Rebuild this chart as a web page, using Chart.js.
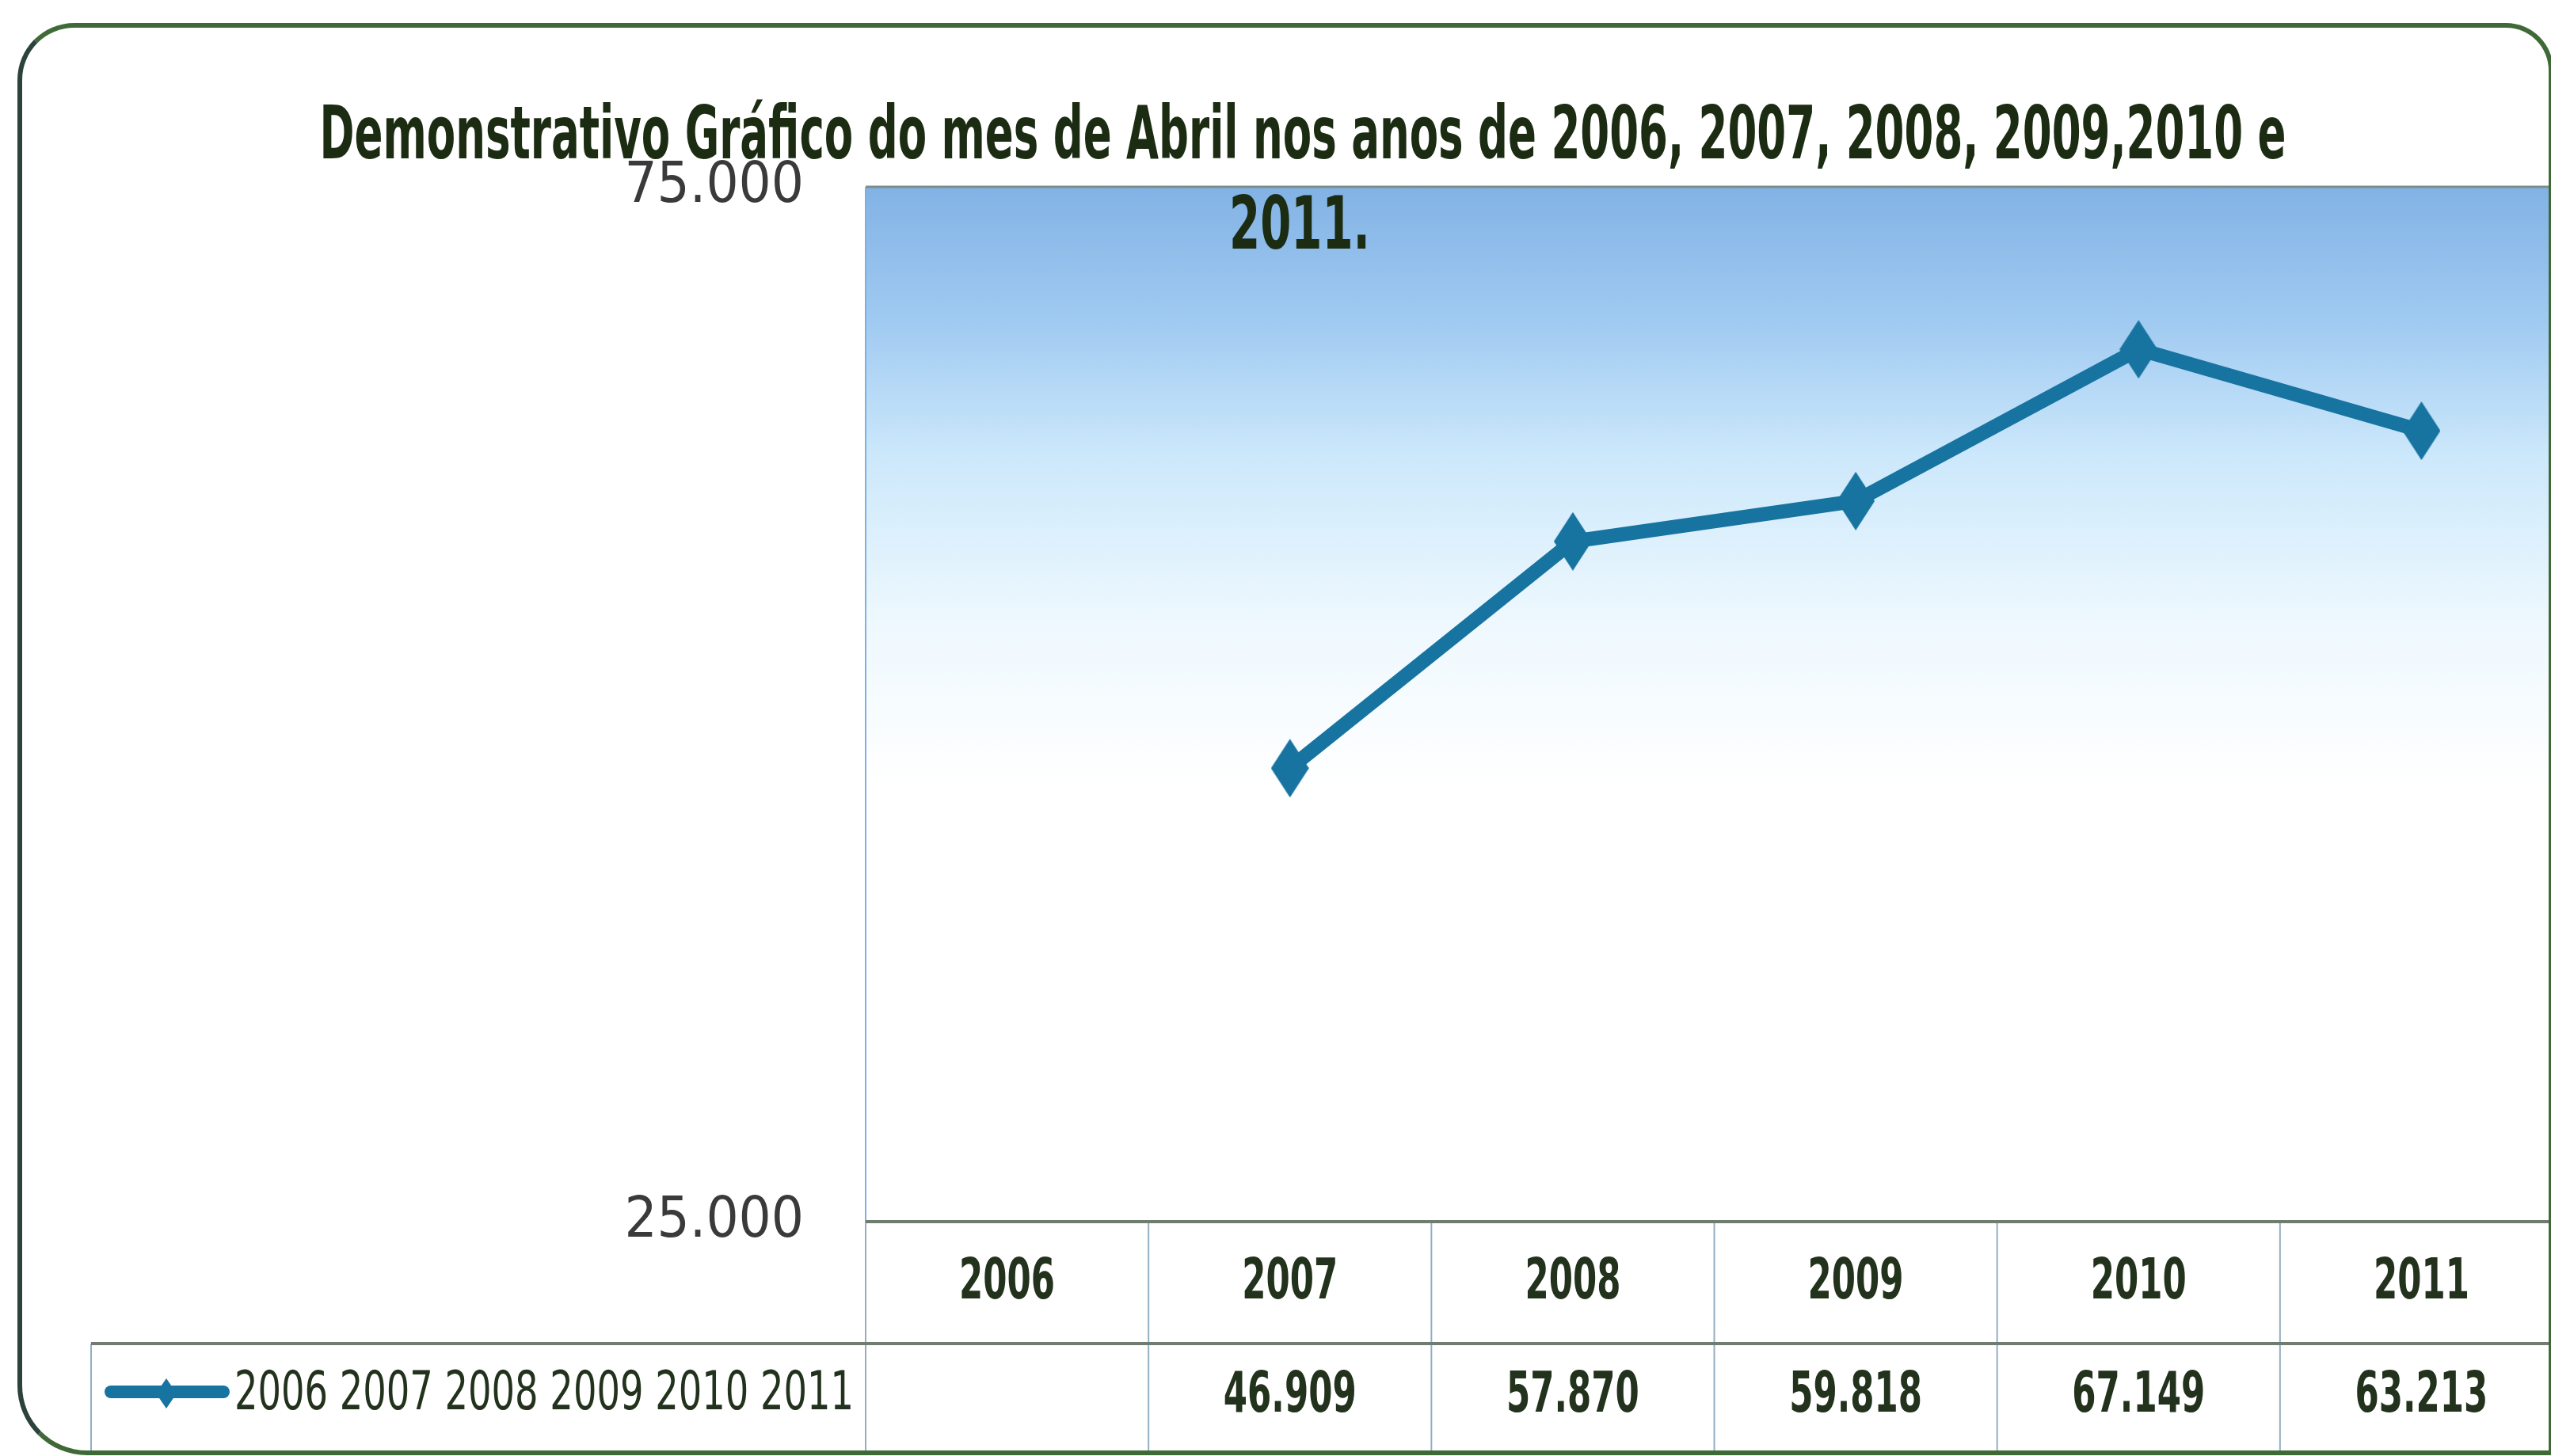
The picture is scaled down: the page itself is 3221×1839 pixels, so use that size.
<!DOCTYPE html>
<html>
<head>
<meta charset="utf-8">
<script src="https://cdn.jsdelivr.net/npm/chart.js@4.4.1/dist/chart.umd.min.js"></script>
<style>
  html, body { margin: 0; padding: 0; background: #fff; overflow: hidden; }
  #wrap { position: relative; width: 3221px; height: 1839px; overflow: hidden; }
  #abrilChart { position: absolute; left: 0; top: 0; }
  #frame {
    position: absolute; left: 22px; top: 29px; width: 3190px; height: 1797px;
    border: 6px solid #3f6a38; border-left-color: #2c423c;
    border-radius: 72px 60px 0 88px; pointer-events: none;
  }
</style>
</head>
<body>
<div id="wrap">
  <canvas id="abrilChart" width="3278" height="1839"></canvas>
  <div id="frame"></div>
</div>
<script>
// dados do grafico
const years = ['2006', '2007', '2008', '2009', '2010', '2011'];
const abrilValues = [null, 46909, 57870, 59818, 67149, 63213];
const yTicks = [25000, 75000];
const seriesLabel = '2006 2007 2008 2009 2010 2011';
const titleLines = [
  'Demonstrativo Gráfico do mes de Abril nos anos de 2006, 2007, 2008, 2009,2010 e',
  '2011.'
];

const FONT = "'Liberation Sans Narrow', 'DejaVu Sans Condensed', 'DejaVu Sans', sans-serif";
const lineColor = '#17739f';
const textColor = '#22321c';

function fmt(v) {
  if (v === null || v === undefined) return '';
  return String(v).replace(/\B(?=(\d{3})+(?!\d))/g, '.');
}

// diamond marker, a bit taller than wide like the original
function makeDiamond(w, h) {
  const c = document.createElement('canvas');
  c.width = w;
  c.height = h;
  const g = c.getContext('2d');
  g.fillStyle = lineColor;
  g.beginPath();
  g.moveTo(w / 2, 0);
  g.lineTo(w, h / 2);
  g.lineTo(w / 2, h);
  g.lineTo(0, h / 2);
  g.closePath();
  g.fill();
  return c;
}

// text squeezed horizontally by sx (the original uses a narrow font)
function drawSqueezed(ctx, text, x, y, sx) {
  ctx.save();
  ctx.translate(x, y);
  ctx.scale(sx, 1);
  ctx.fillText(text, 0, 0);
  ctx.restore();
}

function fitText(ctx, text, x, y, maxW) {
  const w = ctx.measureText(text).width;
  drawSqueezed(ctx, text, x, y, w > maxW ? maxW / w : 1);
}

const plotBackground = {
  id: 'plotBackground',
  beforeDraw(chart) {
    const { ctx, chartArea: a } = chart;
    const grad = ctx.createLinearGradient(0, a.top, 0, a.bottom);
    grad.addColorStop(0, '#82b2e5');
    grad.addColorStop(0.13, '#a0caf1');
    grad.addColorStop(0.26, '#cce8fb');
    grad.addColorStop(0.42, '#eef8fe');
    grad.addColorStop(0.58, '#ffffff');
    grad.addColorStop(1, '#ffffff');
    ctx.save();
    ctx.fillStyle = grad;
    ctx.fillRect(a.left, a.top, a.right - a.left, a.bottom - a.top);
    // top edge of plot area
    ctx.strokeStyle = '#7d8c8a';
    ctx.lineWidth = 3;
    ctx.beginPath();
    ctx.moveTo(a.left, a.top);
    ctx.lineTo(a.right, a.top);
    ctx.stroke();
    // left edge
    ctx.strokeStyle = '#7fb0e2';
    ctx.lineWidth = 2;
    ctx.beginPath();
    ctx.moveTo(a.left, a.top);
    ctx.lineTo(a.left, a.bottom);
    ctx.stroke();
    ctx.restore();
  }
};

// data table under the plot (years + values + legend key)
const dataTable = {
  id: 'dataTable',
  afterDraw(chart) {
    const { ctx, chartArea: a } = chart;
    const xs = chart.scales.x;
    const colW = xs.getPixelForValue(1) - xs.getPixelForValue(0);
    const row1Top = a.bottom;
    const row2Top = a.bottom + 154;
    const row2Bottom = a.bottom + 292;
    const legendLeft = 115;

    ctx.save();
    // vertical lines
    ctx.strokeStyle = '#93aec4';
    ctx.lineWidth = 2;
    ctx.beginPath();
    for (let i = 0; i <= years.length; i++) {
      const x = a.left + i * colW;
      ctx.moveTo(x, row1Top);
      ctx.lineTo(x, row2Bottom);
    }
    ctx.moveTo(legendLeft, row2Top);
    ctx.lineTo(legendLeft, row2Bottom);
    ctx.stroke();

    // horizontal lines
    ctx.strokeStyle = '#6f7d70';
    ctx.lineWidth = 4;
    ctx.beginPath();
    ctx.moveTo(a.left, row1Top);
    ctx.lineTo(chart.width, row1Top);
    ctx.moveTo(legendLeft, row2Top);
    ctx.lineTo(chart.width, row2Top);
    ctx.stroke();

    // texts
    ctx.fillStyle = textColor;
    ctx.textAlign = 'center';
    ctx.textBaseline = 'middle';
    ctx.font = 'bold 72px ' + FONT;
    const sx = 121 / ctx.measureText('2007').width;
    years.forEach((y, i) => {
      const cx = xs.getPixelForValue(i);
      drawSqueezed(ctx, y, cx, (row1Top + row2Top) / 2 + 1, sx);
      drawSqueezed(ctx, fmt(abrilValues[i]), cx, (row2Top + row2Bottom) / 2 - 2, sx);
    });

    // legend key
    const ly = (row2Top + row2Bottom) / 2 - 8;
    ctx.strokeStyle = lineColor;
    ctx.lineWidth = 16;
    ctx.lineCap = 'round';
    ctx.beginPath();
    ctx.moveTo(140, ly);
    ctx.lineTo(282, ly);
    ctx.stroke();
    ctx.drawImage(makeDiamond(26, 38), 210 - 13, ly - 17);
    ctx.textAlign = 'left';
    ctx.font = '500 68px ' + FONT;
    fitText(ctx, seriesLabel, 296, ly + 4, 782);

    // title, drawn on top of everything
    ctx.fillStyle = '#1b2c12';
    ctx.textAlign = 'center';
    ctx.textBaseline = 'alphabetic';
    ctx.font = 'bold 92px ' + FONT;
    fitText(ctx, titleLines[0], 1645, 200, 2483);
    fitText(ctx, titleLines[1], 1641, 314, 178);
    ctx.restore();
  }
};

const ctx = document.getElementById('abrilChart');

new Chart(ctx, {
  type: 'line',
  data: {
    labels: years,
    datasets: [{
      label: seriesLabel,
      data: abrilValues,
      borderColor: lineColor,
      backgroundColor: lineColor,
      borderWidth: 18,
      pointStyle: makeDiamond(48, 74),
      pointRadius: 24,
      tension: 0
    }]
  },
  options: {
    responsive: false,
    animation: false,
    devicePixelRatio: 1,
    layout: {
      padding: { left: 0, right: 17, top: 236, bottom: 296 }
    },
    plugins: {
      legend: { display: false },
      title: { display: false },
      tooltip: { enabled: false }
    },
    scales: {
      x: {
        type: 'category',
        offset: true,
        display: false
      },
      y: {
        min: 25000,
        max: 75000,
        grid: { display: false },
        border: { display: false },
        afterFit(scale) {
          scale.width = 1093;
        },
        afterBuildTicks(scale) {
          scale.ticks = yTicks.map(v => ({ value: v }));
        },
        ticks: {
          padding: 70,
          color: '#3a3a3a',
          font: { family: FONT, size: 72 },
          callback: function(value) {
            return fmt(value);
          }
        }
      }
    }
  },
  plugins: [plotBackground, dataTable]
});
</script>
</body>
</html>
